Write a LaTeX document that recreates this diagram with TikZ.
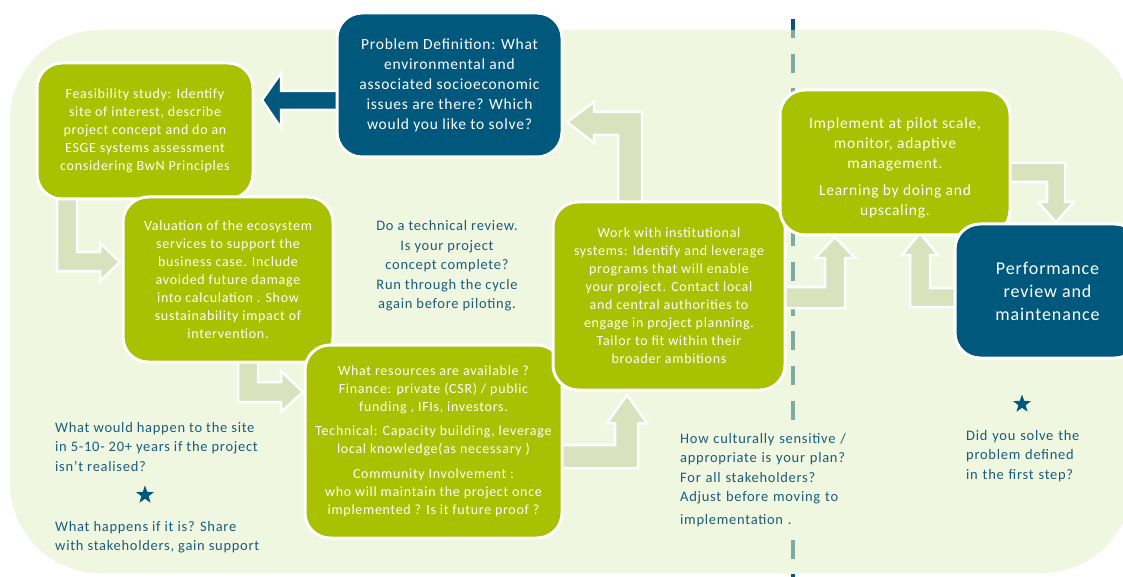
\documentclass[tikz,border=0pt]{standalone}
\usepackage{fontspec}
\setmainfont{Carlito}[LetterSpace=5]
\usetikzlibrary{shapes.geometric}

\definecolor{lime}{RGB}{168,193,0}
\definecolor{navy}{RGB}{0,88,124}
\definecolor{pale}{RGB}{216,227,190}
\definecolor{bgtint}{RGB}{226,240,200}
\definecolor{bgsolid}{RGB}{239,247,225}
\definecolor{notecol}{RGB}{28,92,122}

\tikzset{
  stage/.style={draw=white, line width=3pt, rounded corners=25pt, text=white,
    align=center, inner sep=0pt, font=\fontsize{14}{18}\selectfont},
  greenbox/.style={stage, fill=lime},
  bluebox/.style={stage, fill=navy},
  flow/.style={fill=pale, draw=white, line width=2.5pt, line join=miter},
  backflow/.style={fill=navy, draw=white, line width=2.5pt, line join=miter},
  remark/.style={text=notecol, font=\fontsize{14.5}{19.5}\selectfont, inner sep=0pt},
  bluestar/.style={star, star points=5, star point ratio=2.5, fill=navy,
    minimum size=19pt, inner sep=0pt}
}

\begin{document}
\begin{tikzpicture}[x=1pt, y=-1pt]
  \useasboundingbox (0,0) rectangle (1123,577);
  \clip (0,0) rectangle (1123,577);

  % phase divider, seen through the tinted panel
  \draw[navy, line width=4.5pt, dash pattern=on 19pt off 15.7pt] (793,19) -- (793,600);

  % tinted panel
  \fill[bgtint, fill opacity=0.55, rounded corners=90pt] (10,30) rectangle (1132,573);

  % block arrows between the stages
  \draw[flow] (57,199) -- (77,199) -- (77,252) -- (100,252) -- (100,243) -- (120,262)
    -- (100,281) -- (100,271) -- (57,271) -- cycle;
  \draw[flow] (238,360) -- (258,360) -- (258,382) -- (281,382) -- (281,371) -- (303,392)
    -- (281,412) -- (281,402) -- (238,402) -- cycle;
  \draw[flow] (560,445) -- (615,445) -- (615,423) -- (607,423) -- (627,395) -- (647,423)
    -- (638,423) -- (638,468) -- (560,468) -- cycle;
  \draw[flow] (618,202) -- (618,135) -- (594,135) -- (594,143) -- (567,122) -- (594,102)
    -- (594,112) -- (642,112) -- (642,202) -- cycle;
  \draw[flow] (783,287) -- (825,287) -- (825,258) -- (815,258) -- (835,237) -- (855,258)
    -- (845,258) -- (845,308) -- (783,308) -- cycle;
  \draw[flow] (1008,163) -- (1065,163) -- (1065,202) -- (1074,202) -- (1056,222) -- (1038,202)
    -- (1047,202) -- (1047,182) -- (1008,182) -- cycle;
  \draw[flow] (957,288) -- (930,288) -- (930,255) -- (938,255) -- (920,233) -- (902,255)
    -- (910,255) -- (910,307) -- (957,307) -- cycle;
  \draw[backflow] (340,91) -- (281,91) -- (281,73) -- (262,100) -- (281,128) -- (281,110)
    -- (340,110) -- cycle;

  % stages
  \node[greenbox, minimum width=216pt, minimum height=136pt] (feas) at (145,131)
    {Feasibility study: Identify\\ site of interest, describe\\ project concept and do an\\
     ESGE systems assessment\\ considering BwN Principles};
  \node[greenbox, minimum width=210pt, minimum height=165pt] (val) at (228,279.5)
    {Valuation of the ecosystem\\ services to support the\\ business case. Include\\
     avoided future damage\\ into calculation . Show\\ sustainability impact of\\ intervention.};
  \node[greenbox, minimum width=257pt, minimum height=193pt] (res) at (433.5,441.5)
    {What resources are available ?\\ Finance: private (CSR) / public\\ funding , IFIs, investors.\\[6pt]
     Technical: Capacity building, leverage\\ local knowledge(as necessary )\\[7pt]
     Community Involvement :\\ who will maintain the project once\\ implemented ? Is it future proof ?};
  \node[greenbox, minimum width=232pt, minimum height=188pt] (work) at (669,296)
    {Work with institutional\\ systems: Identify and leverage\\ programs that will enable\\
     your project. Contact local\\ and central authorities to\\ engage in project planning.\\
     Tailor to fit within their\\ broader ambitions};
  \node[greenbox, minimum width=230pt, minimum height=145pt,
        font=\fontsize{15.5}{20}\selectfont] (impl) at (895,162.5)
    {\mbox{}\\[2pt]Implement at pilot scale,\\ monitor, adaptive\\ management.\\[7pt] Learning by doing and\\ upscaling.};
  \node[bluebox, minimum width=185pt, minimum height=134pt,
        font=\fontsize{18}{23}\selectfont] (perf) at (1047.5,291)
    {Performance\\ review and\\ maintenance};
  \node[bluebox, minimum width=225pt, minimum height=144pt,
        font=\fontsize{15.5}{20}\selectfont] (prob) at (449.5,85)
    {Problem Definition: What\\ environmental and\\ associated socioeconomic\\
     issues are there? Which\\ would you like to solve?};

  % guiding questions
  \node[remark, align=center] (review) at (447,266)
    {Do a technical review.\\ Is your project\\ concept complete?\\ Run through the cycle\\ again before piloting.};
  \node[remark, align=left, anchor=west] (without) at (55,447)
    {What would happen to the site\\ in 5-10- 20+ years if the project\\ isn’t realised?};
  \node[bluestar] (starleft) at (145,495) {};
  \node[remark, align=left, anchor=west] (with) at (55,537)
    {What happens if it is? Share\\ with stakeholders, gain support};
  \node[remark, align=left, anchor=west, fill=bgsolid, inner xsep=13pt, inner ysep=10pt,
        text width=180pt] (culture) at (667,480)
    {How culturally sensitive /\\ appropriate is your plan?\\ For all stakeholders?\\
     Adjust before moving to\\[3pt] implementation .};
  \node[bluestar] (starright) at (1022,404) {};
  \node[remark, align=left, anchor=west, fill=bgsolid, inner xsep=11pt, inner ysep=8pt,
        text width=118pt] (solved) at (955,456)
    {Did you solve the\\ problem defined\\ in the first step?};
\end{tikzpicture}
\end{document}
